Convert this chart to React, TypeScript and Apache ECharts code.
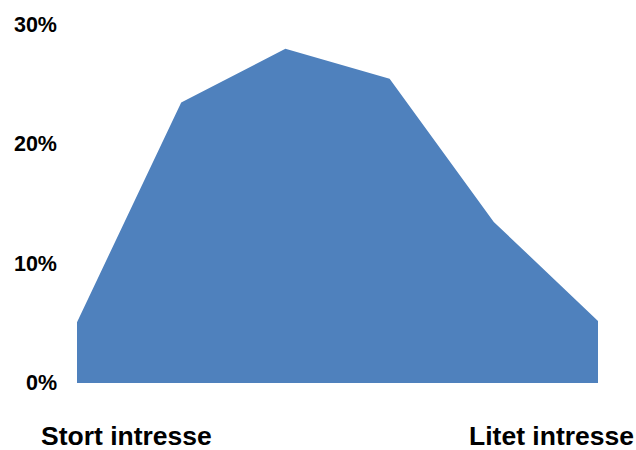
import React, { useEffect, useRef } from "react";
import * as echarts from "echarts";

const categories = ["1", "2", "3", "4", "5", "6"];
const shares = [5.1, 23.5, 28.0, 25.5, 13.5, 5.2];
const yTicks = [0, 10, 20, 30];
const endLabels = ["Stort intresse", "Litet intresse"];

export default function App() {
  const ref = useRef<HTMLDivElement>(null);
  useEffect(() => {
    if (!ref.current) return;
    const chart = echarts.init(ref.current, undefined, { renderer: "svg" });
    chart.setOption({
      animation: false,
      grid: { left: 77, right: 38, top: 25, bottom: 67, containLabel: false },
      xAxis: {
        type: "category",
        data: categories,
        boundaryGap: false,
        axisLine: { show: false },
        axisTick: { show: false },
        axisLabel: { show: false },
        splitLine: { show: false },
      },
      yAxis: {
        type: "value",
        min: yTicks[0],
        max: yTicks[yTicks.length - 1],
        interval: 10,
        axisLine: { show: false },
        axisTick: { show: false },
        splitLine: { show: false },
        axisLabel: {
          formatter: "{value}%",
          margin: 20,
          color: "#000",
          fontSize: 21.5,
          fontWeight: "bold",
          fontFamily: "Liberation Sans, Arial, sans-serif",
        },
      },
      graphic: [
        {
          type: "text",
          left: 41,
          top: 422,
          style: {
            text: endLabels[0],
            fill: "#000",
            font: "bold 26.5px 'Liberation Sans', Arial, sans-serif",
          },
        },
        {
          type: "text",
          right: 2,
          top: 422,
          style: {
            text: endLabels[1],
            fill: "#000",
            font: "bold 26.5px 'Liberation Sans', Arial, sans-serif",
          },
        },
      ],
      series: [
        {
          type: "line",
          data: shares,
          symbol: "none",
          lineStyle: { width: 0 },
          areaStyle: { color: "#4F81BD", opacity: 1 },
          itemStyle: { color: "#4F81BD" },
        },
      ],
    });
    return () => chart.dispose();
  }, []);
  return <div ref={ref} style={{ width: 636, height: 450, position: "absolute", left: 0, top: 0 }} />;
}
